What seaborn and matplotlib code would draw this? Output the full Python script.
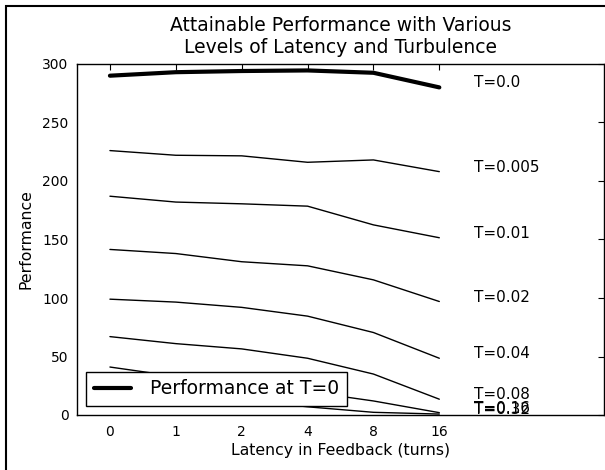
import matplotlib
matplotlib.use("Agg")
import matplotlib.pyplot as plt
import seaborn as sns
import pandas as pd
from matplotlib.patches import Rectangle

latency_labels = ["0", "1", "2", "4", "8", "16"]
turbulence_labels = ["T=0.0", "T=0.005", "T=0.01", "T=0.02", "T=0.04", "T=0.08", "T=0.16", "T=0.32"]
perf_t0 = [290, 293, 294, 294.5, 292.5, 280]
perf_t0005 = [226, 222, 221.5, 216, 218, 208]
perf_t001 = [187, 182, 180.5, 178.5, 162.5, 151.5]
perf_t002 = [141.5, 138, 131, 127.5, 115.5, 97]
perf_t004 = [99, 96.5, 92, 84.5, 70.5, 48.5]
perf_t008 = [67, 61, 56.5, 48.5, 35, 13.5]
perf_t016 = [41, 33, 27, 20, 12, 2.0]
perf_t032 = [22, 17, 13, 7, 2.3, 0.8]

series = [perf_t0, perf_t0005, perf_t001, perf_t002, perf_t004, perf_t008, perf_t016, perf_t032]

sns.set_style("white")
plt.rcParams.update({
    "font.family": ["DejaVu Sans"],
    "text.color": "black",
    "axes.labelcolor": "black",
    "xtick.direction": "in",
    "ytick.direction": "in",
    "xtick.top": True,
    "ytick.right": True,
    "xtick.major.size": 4,
    "ytick.major.size": 4,
    "xtick.color": "black",
    "ytick.color": "black",
    "axes.edgecolor": "black",
    "axes.linewidth": 1.0,
})

fig = plt.figure(figsize=(6.05, 4.70), dpi=100)
ax = fig.add_axes([77 / 605, 1 - 415 / 470, (604 - 77) / 605, (415 - 64) / 470])

pos = list(range(len(latency_labels)))
for i, (lab, vals) in enumerate(zip(turbulence_labels, series)):
    df = pd.DataFrame({"pos": pos, "perf": vals})
    if i == 0:
        sns.lineplot(data=df, x="pos", y="perf", ax=ax, color="black", linewidth=3.0,
                     label="Performance at T=0")
    else:
        sns.lineplot(data=df, x="pos", y="perf", ax=ax, color="black", linewidth=1.0,
                     legend=False)
    ax.text(pos[-1] + 0.53, vals[-1], lab, fontsize=11, color="black")

ax.set_xlim(-0.5, 7.5)
ax.set_ylim(0, 300)
ax.set_xticks(pos)
ax.set_xticklabels(latency_labels, fontsize=10)
ax.set_yticks(range(0, 301, 50))
ax.tick_params(axis="x", labelsize=10, pad=7)
ax.tick_params(axis="y", labelsize=10, pad=6)
ax.set_xlabel("Latency in Feedback (turns)", fontsize=11.3, labelpad=3)
ax.set_ylabel("Performance", fontsize=11.3, labelpad=6)
ax.set_title("Attainable Performance with Various\nLevels of Latency and Turbulence",
             fontsize=13.5, pad=8, color="black")
for s in ax.spines.values():
    s.set_visible(True)
    s.set_color("black")

leg = ax.legend(loc="lower left", fontsize=13.5, fancybox=False, framealpha=1,
                edgecolor="black", handletextpad=1.0, borderaxespad=0.5)
leg.get_frame().set_linewidth(1.0)

fig.patches.append(Rectangle((6 / 605, -0.1), 1.2, 1 - 6 / 470 + 0.1, transform=fig.transFigure,
                             fill=False, edgecolor="black", linewidth=1.5))

fig.savefig("out.png", dpi=100)
